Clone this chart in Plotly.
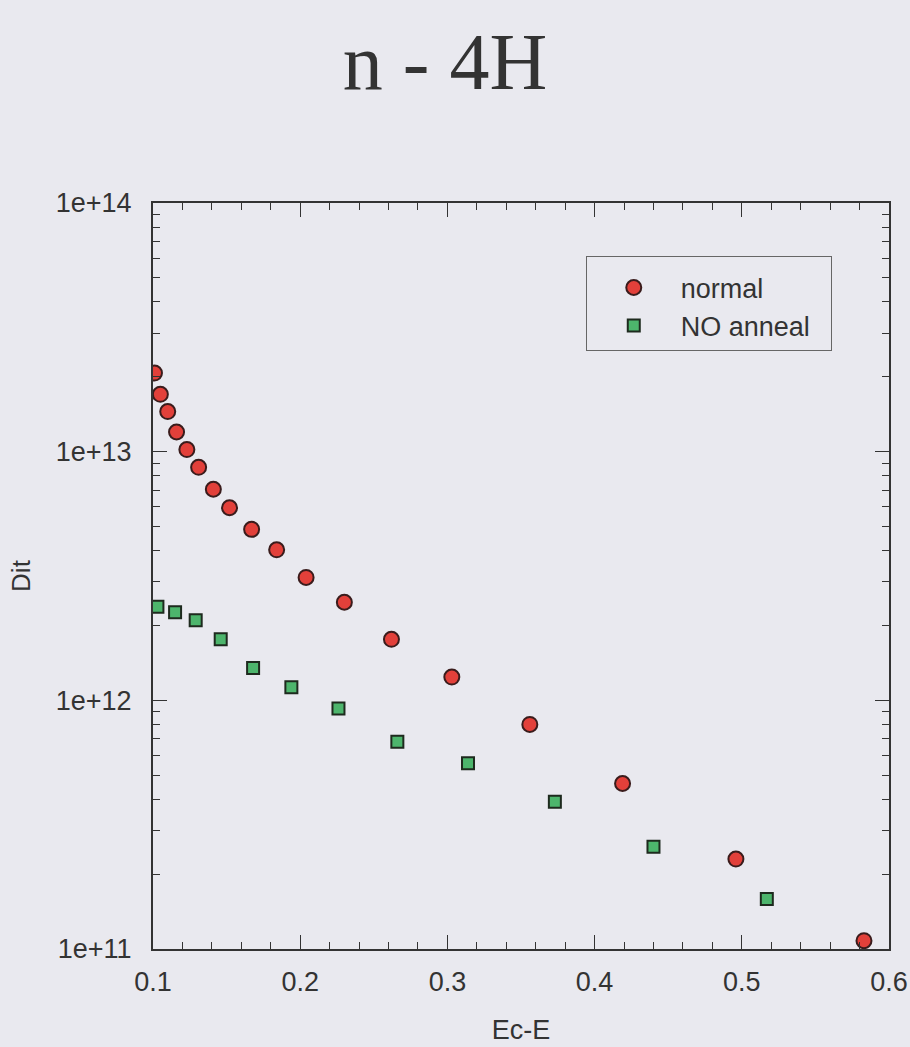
import plotly.graph_objects as go

# ---- data ----
normal_x = [0.101, 0.105, 0.110, 0.116, 0.123, 0.131, 0.141, 0.152, 0.167, 0.184,
            0.204, 0.230, 0.262, 0.303, 0.356, 0.419, 0.496, 0.583]
normal_y = [2.07e13, 1.70e13, 1.45e13, 1.20e13, 1.02e13, 8.65e12, 7.06e12, 5.95e12,
            4.87e12, 4.03e12, 3.12e12, 2.48e12, 1.76e12, 1.24e12, 8.0e11, 4.63e11,
            2.30e11, 1.08e11]

noanneal_x = [0.103, 0.115, 0.129, 0.146, 0.168, 0.194, 0.226, 0.266, 0.314, 0.373,
              0.440, 0.517]
noanneal_y = [2.38e12, 2.26e12, 2.10e12, 1.76e12, 1.35e12, 1.13e12, 9.28e11, 6.82e11,
              5.58e11, 3.91e11, 2.58e11, 1.59e11]

x_ticks = [0.1, 0.2, 0.3, 0.4, 0.5, 0.6]
x_ticktext = ["0.1", "0.2", "0.3", "0.4", "0.5", "0.6"]
y_ticks = [1e11, 1e12, 1e13, 1e14]
y_ticktext = ["1e+11", "1e+12", "1e+13", "1e+14"]

BG = "#e9e9ef"
INK = "#333333"
SANS = "Liberation Sans, Arial, sans-serif"

fig = go.Figure()
fig.add_trace(go.Scatter(
    x=normal_x, y=normal_y, mode="markers", name="normal",
    marker=dict(symbol="circle", size=15, color="#e2403a",
                line=dict(color="#3a1c1c", width=2)),
))
fig.add_trace(go.Scatter(
    x=noanneal_x, y=noanneal_y, mode="markers", name="NO anneal  ",
    marker=dict(symbol="square", size=12, color="#4db56c",
                line=dict(color="#1e2a1e", width=2)),
))

minor_y = [k * 10 ** e for e in range(11, 14) for k in range(2, 10)]

fig.update_layout(
    width=910, height=1047, autosize=False,
    paper_bgcolor=BG, plot_bgcolor=BG,
    margin=dict(l=153, r=21, t=203, b=98, autoexpand=False),
    title=dict(text="n - 4H", x=0.489, xanchor="center", y=0.942, yanchor="middle",
               font=dict(family="Liberation Serif, Times New Roman, serif", size=80, color=INK)),
    font=dict(family=SANS, color=INK),
    showlegend=True,
    legend=dict(x=0.588, y=0.929, xanchor="left", yanchor="top",
                bgcolor=BG, bordercolor="#666666", borderwidth=1,
                font=dict(family=SANS, size=27, color=INK),
                title=dict(text=" ", font=dict(size=5)),
                itemwidth=84),
)

fig.update_xaxes(
    range=[0.1, 0.6], tickvals=x_ticks, ticktext=x_ticktext,
    automargin=False,
    showgrid=False, zeroline=False,
    showline=True, linecolor=INK, linewidth=2, mirror="allticks",
    ticks="inside", ticklen=14, tickwidth=1.2, tickcolor=INK,
    minor=dict(ticks="inside", ticklen=7, tickwidth=1.2, tickcolor=INK, dtick=0.02, showgrid=False),
    tickfont=dict(family=SANS, size=27, color=INK),
    ticklabelstandoff=8,
    title=dict(text="Ec-E", font=dict(family=SANS, size=27, color=INK), standoff=24),
)
fig.update_yaxes(
    type="log", range=[11, 14], tickvals=y_ticks, ticktext=y_ticktext,
    automargin=False,
    showgrid=False, zeroline=False,
    showline=True, linecolor=INK, linewidth=2, mirror="allticks",
    ticks="inside", ticklen=14, tickwidth=1.2, tickcolor=INK,
    minor=dict(ticks="inside", ticklen=7, tickwidth=1.2, tickcolor=INK, tickvals=minor_y, showgrid=False),
    tickfont=dict(family=SANS, size=27, color=INK),
    ticklabelstandoff=14,
    title=dict(text="Dit", font=dict(family=SANS, size=26, color=INK), standoff=18),
)

post = (
    "document.body.style.margin='0';"
    "document.body.style.overflow='hidden';"
    "document.body.style.background='" + BG + "';"
    "var gd=document.getElementById('{plot_id}');"
    "Plotly.relayout(gd,{width:910,height:1047});"
)

fig.write_html("out.html", config={"responsive": False, "displayModeBar": False},
               post_script=post)
